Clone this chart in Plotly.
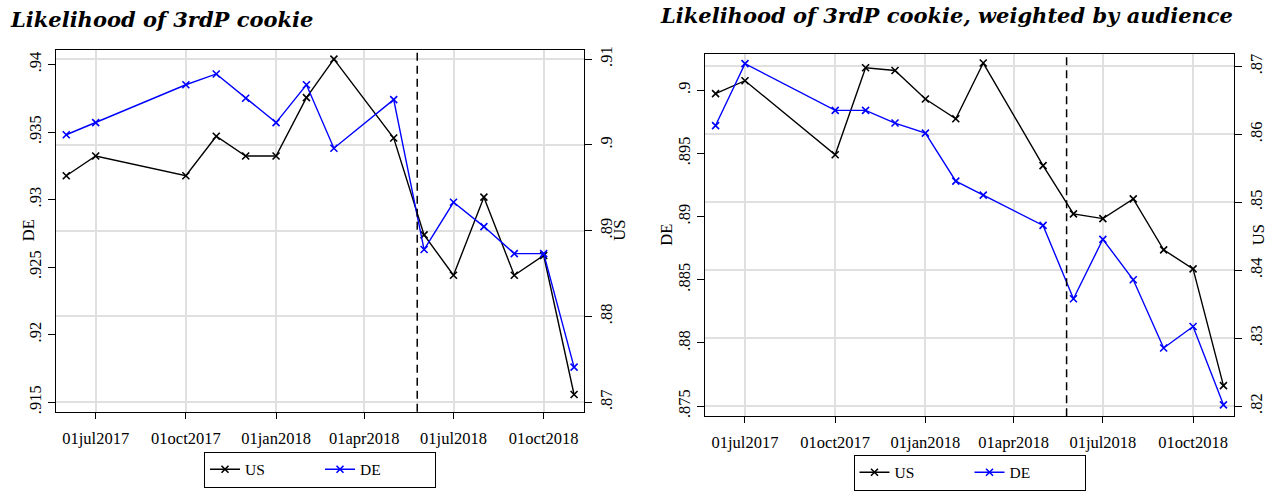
import plotly.graph_objs as go

# monthly observations (Aug/Sep 2017 and Apr 2018 missing)
dates = ['2017-06-01', '2017-07-01', '2017-10-01', '2017-11-01', '2017-12-01',
         '2018-01-01', '2018-02-01', '2018-03-01', '2018-05-01', '2018-06-01',
         '2018-07-01', '2018-08-01', '2018-09-01', '2018-10-01', '2018-11-01']

# Likelihood of 3rdP cookie
us_raw = [.8964, .8987, .8964, .9010, .8987, .8987, .9055, .9100,
          .9008, .8895, .8848, .8939, .8848, .8871, .8709]
de_raw = [.9348, .9357, .9385, .9393, .9375, .9357, .9385, .9338,
          .9374, .9263, .9298, .9280, .9260, .9260, .9176]

# Likelihood of 3rdP cookie, weighted by audience
us_weighted = [.8660, .8679, .8570, .8698, .8694, .8652, .8623, .8705,
               .8554, .8483, .8476, .8505, .8430, .8402, .8230]
de_weighted = [.8972, .9021, .8984, .8984, .8974, .8966, .8928, .8917,
               .8893, .8835, .8882, .8850, .8796, .8813, .8751]

gdpr_date = '2018-05-25'

xtick_vals = ['2017-07-01', '2017-10-01', '2018-01-01', '2018-04-01', '2018-07-01', '2018-10-01']
xtick_text = ['01jul2017', '01oct2017', '01jan2018', '01apr2018', '01jul2018', '01oct2018']

left_de_ticks = [.915, .92, .925, .93, .935, .94]
left_de_text = ['.915', '.92', '.925', '.93', '.935', '.94']
left_us_ticks = [.87, .88, .89, .9, .91]
left_us_text = ['.87', '.88', '.89', '.9', '.91']

right_de_ticks = [.875, .88, .885, .89, .895, .9]
right_de_text = ['.875', '.88', '.885', '.89', '.895', '.9']
right_us_ticks = [.82, .83, .84, .85, .86, .87]
right_us_text = ['.82', '.83', '.84', '.85', '.86', '.87']

W, H = 1288, 491
SERIF = 'Liberation Serif'
tickfont = dict(family=SERIF, size=16.5, color='black')
grid = '#e0e0e0'


def px_x(p):
    return p / W


def px_y(p):
    return 1 - p / H


def series(x, y, name, color, xa, ya, legend, show=True):
    return go.Scatter(x=x, y=y, name=name, mode='lines+markers',
                      line=dict(color=color, width=1.4),
                      marker=dict(symbol='x-thin', size=7,
                                  line=dict(color=color, width=1.6)),
                      xaxis=xa, yaxis=ya, legend=legend, showlegend=show)


data = [
    series(dates, us_raw, 'US', 'black', 'x', 'y', 'legend'),
    series(dates, de_raw, 'DE', '#0000ff', 'x', 'y2', 'legend'),
    series(dates, us_weighted, 'US', 'black', 'x2', 'y3', 'legend2'),
    series(dates, de_weighted, 'DE', '#0000ff', 'x2', 'y4', 'legend2'),
]


def xax(domain, anchor, rng):
    return dict(domain=domain, anchor=anchor, range=rng, type='date',
                tickmode='array', tickvals=xtick_vals, ticktext=xtick_text,
                tickfont=tickfont, ticks='outside', ticklen=6, tickwidth=1.3,
                tickcolor='black', ticklabelstandoff=5,
                showgrid=True, gridcolor=grid, gridwidth=1.5,
                showline=True, linecolor='black', linewidth=1.4, mirror=True,
                zeroline=False)


def yax(rng, vals, text, side, grid_on, **kw):
    d = dict(range=rng, tickmode='array', tickvals=vals, ticktext=text,
             tickangle=-90, tickfont=tickfont, side=side,
             ticks='outside', ticklen=7, tickwidth=1.3, tickcolor='black',
             showgrid=grid_on, gridcolor=grid, gridwidth=1.5,
             showline=True, linecolor='black', linewidth=1.4, zeroline=False)
    d.update(kw)
    return d


legend_style = dict(orientation='h', xanchor='center', yanchor='top',
                    bordercolor='black', borderwidth=1, bgcolor='rgba(0,0,0,0)',
                    font=dict(family=SERIF, size=15.5, color='black'),
                    entrywidth=70, itemclick=False)

title_font = dict(family='DejaVu Serif', size=21, color='black')

layout = go.Layout(
    width=W, height=H,
    margin=dict(l=0, r=0, t=0, b=0),
    plot_bgcolor='white', paper_bgcolor='white',
    xaxis=xax([px_x(55.7), px_x(584)], 'y', ['2017-05-21 05:00', '2018-11-11 03:00']),
    yaxis=yax([.8689, .9111], left_us_ticks, left_us_text, 'right', True,
              domain=[px_y(418), px_y(47.7)], anchor='x'),
    yaxis2=yax([.9143, .9411], left_de_ticks, left_de_text, 'left', False,
               overlaying='y', anchor='x'),
    xaxis2=xax([px_x(705), px_x(1234)], 'y3', ['2017-05-21 05:00', '2018-11-11 18:00']),
    yaxis3=yax([.8185, .8719], right_us_ticks, right_us_text, 'right', True,
               domain=[px_y(422.7), px_y(51.7)], anchor='x2'),
    yaxis4=yax([.8742, .9029], right_de_ticks, right_de_text, 'left', False,
               overlaying='y3', anchor='x2'),
    legend=dict(legend_style, x=px_x(320), y=px_y(459)),
    legend2=dict(legend_style, x=px_x(969.5), y=px_y(462)),
    shapes=[
        dict(type='line', xref='x', yref='y domain', x0=gdpr_date, x1=gdpr_date,
             y0=0, y1=1, line=dict(color='black', width=1.5, dash='8px,5px')),
        dict(type='line', xref='x2', yref='y3 domain', x0=gdpr_date, x1=gdpr_date,
             y0=0, y1=1, line=dict(color='black', width=1.5, dash='8px,5px')),
    ],
    annotations=[
        dict(text='<b><i>Likelihood of 3rdP cookie</i></b>', xref='paper', yref='paper',
             x=px_x(8), y=px_y(17), xanchor='left', yanchor='middle', showarrow=False,
             font=title_font),
        dict(text='<b><i>Likelihood of 3rdP cookie, weighted by audience</i></b>',
             xref='paper', yref='paper', x=px_x(658), y=px_y(13), xanchor='left',
             yanchor='middle', showarrow=False, font=title_font),
        dict(text='DE', xref='paper', yref='paper', x=px_x(17), y=px_y(233),
             textangle=-90, showarrow=False, font=tickfont),
        dict(text='US', xref='paper', yref='paper', x=px_x(620), y=px_y(233),
             textangle=-90, showarrow=False, font=tickfont),
        dict(text='DE', xref='paper', yref='paper', x=px_x(667), y=px_y(237),
             textangle=-90, showarrow=False, font=tickfont),
        dict(text='US', xref='paper', yref='paper', x=px_x(1270), y=px_y(237),
             textangle=-90, showarrow=False, font=tickfont),
    ],
)

fig = go.Figure(data=data, layout=layout)
# drop the browser's default 8px body margin so the page lines up with the window
fig.write_html('out.html', config={'displayModeBar': False},
               post_script="document.body.style.margin='0';")
